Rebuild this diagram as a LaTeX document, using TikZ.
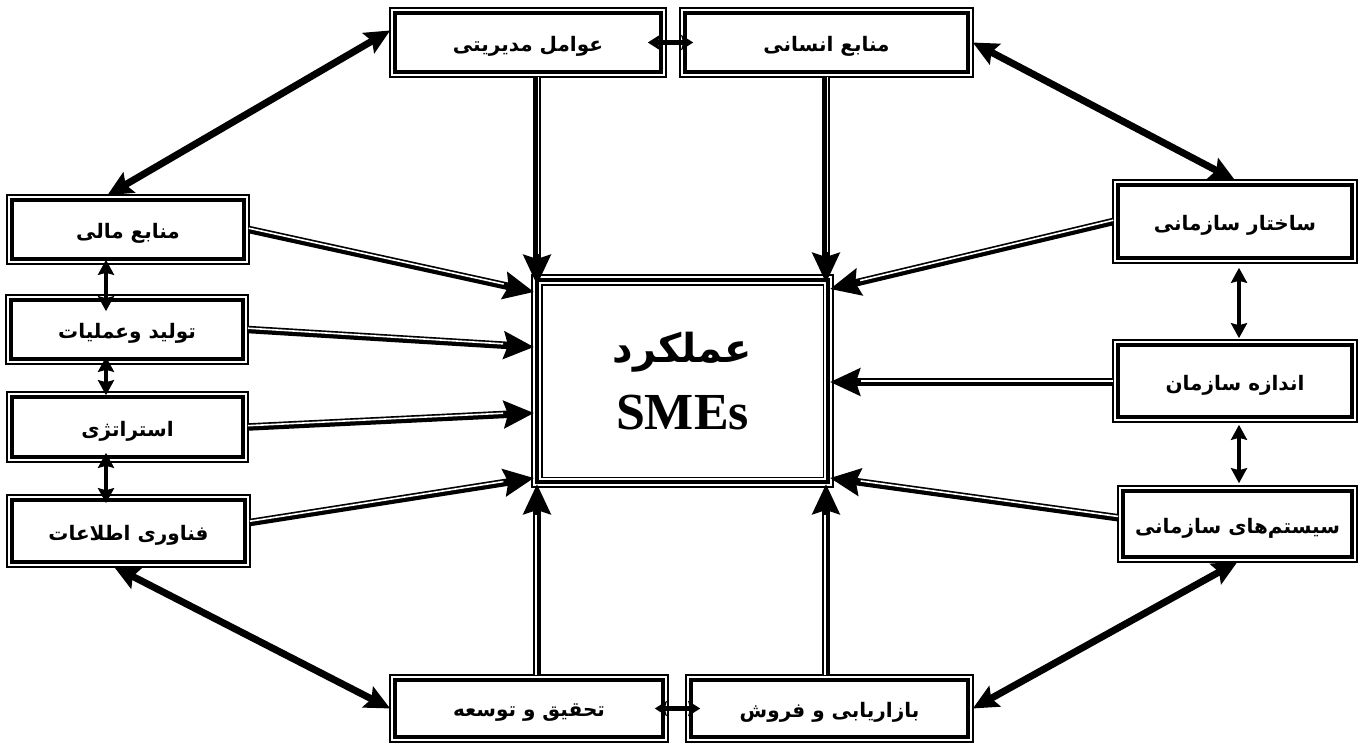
\documentclass[tikz,border=0pt]{standalone}
\usepackage{fontspec}
\setmainfont{Liberation Serif}
\newfontfamily\fa[Script=Arabic]{DejaVu Sans}
\TeXXeTstate=1
\usetikzlibrary{arrows.meta,calc}
\newcommand\lab[1]{\raisebox{-4pt}[\height][\depth]{\fa\bfseries\fontsize{20}{23}\selectfont\beginR #1\endR}}
\newcommand\dbl[3][yshift=1.3pt]{\draw[dblk] #2 -- #3; \draw[dblw, transform canvas={#1}] #2 -- #3;}
\begin{document}
\begin{tikzpicture}[x=1pt,y=-1pt,
  box/.style={draw, line width=3.2pt, outer sep=4.8pt, inner sep=0pt, align=center},
  frame/.style={line width=1.6pt},
  dblk/.style={line width=7.5pt, -{Stealth[length=30pt,width=27pt,inset=4pt]}},
  dblw/.style={white, line width=1.6pt, shorten >=31pt},
  bigbi/.style={line width=7pt, {Stealth[length=25pt,width=23pt,inset=4pt]}-{Stealth[length=25pt,width=23pt,inset=4pt]}},
  smallbi/.style={line width=4.5pt, {Stealth[length=15pt,width=16pt,inset=2pt]}-{Stealth[length=15pt,width=16pt,inset=2pt]}},
  tinybi/.style={line width=4.5pt, {Stealth[length=12pt,width=15pt,inset=2pt]}-{Stealth[length=12pt,width=15pt,inset=2pt]}}]
\useasboundingbox (0,0) rectangle (1364,744);
% boxes
\node[box, minimum width=266, minimum height=59] (mod) at (528,42.5) {\lab{عوامل مدیریتی}};
\node[box, minimum width=283, minimum height=59] (ens) at (826.5,42.5) {\lab{منابع انسانی}};
\node[box, minimum width=234, minimum height=73] (sakh) at (1235,221.5) {\lab{ساختار سازمانی}};
\node[box, minimum width=234, minimum height=72] (andaz) at (1235,381) {\lab{اندازه سازمان}};
\node[box, minimum width=229, minimum height=66] (sys) at (1237.5,524) {\lab{سیستم^^^^200cهای سازمانی}};
\node[box, minimum width=232, minimum height=59] (mali) at (128,229.5) {\lab{منابع مالی}};
\node[box, minimum width=232, minimum height=59] (tolid) at (127,329.5) {\lab{تولید وعملیات}};
\node[box, minimum width=231, minimum height=60] (ester) at (127.5,427) {\lab{استراتژی}};
\node[box, minimum width=233, minimum height=62] (fanav) at (128.5,531) {\lab{فناوری اطلاعات}};
\node[box, minimum width=268, minimum height=57] (tahq) at (529,708.5) {\lab{تحقیق و توسعه}};
\node[box, minimum width=277, minimum height=57] (baz) at (829.5,708.5) {\lab{بازاریابی و فروش}};
\node[box, minimum width=291, minimum height=202] (c) at (682.5,381)
  {{\fa\bfseries\fontsize{40}{46}\selectfont\beginR عملکرد\endR}\\[22pt]
   {\bfseries\fontsize{52}{56}\selectfont SMEs}};
\foreach \n in {mod,ens,sakh,andaz,sys,mali,tolid,ester,fanav,tahq,baz,c}
  \draw[frame] (\n.north west) rectangle (\n.south east);
\draw[frame] ([shift={(9.5,9.5)}]c.north west) rectangle ([shift={(-9.5,-9.5)}]c.south east);
% target points on the centre box
\coordinate (cT1) at (537,285);
\coordinate (cT2) at (826,283);
\coordinate (cL1) at (534,292);
\coordinate (cL2) at (534,347);
\coordinate (cL3) at (534,413);
\coordinate (cL4) at (534,478);
\coordinate (cR1) at (830,289);
\coordinate (cR2) at (830,382);
\coordinate (cR3) at (830,478);
\coordinate (cB1) at (537,484);
\coordinate (cB2) at (826,484);
\coordinate (xl) at (106,0);
\coordinate (xr) at (1239,0);
% double connectors into the centre
\dbl[xshift=1.3pt]{(mod.south -| cT1)}{(cT1)}
\dbl[xshift=1.3pt]{(ens.south -| cT2)}{(cT2)}
\dbl{(mali.east)}{(cL1)}
\dbl{(tolid.east)}{(cL2)}
\dbl{(ester.east)}{(cL3)}
\dbl{(fanav.4)}{(cL4)}
\dbl{(sakh.west)}{(cR1)}
\dbl{(andaz.west |- cR2)}{(cR2)}
\dbl{(sys.177)}{(cR3)}
\dbl[xshift=-1.3pt]{(tahq.north -| cB1)}{(cB1)}
\dbl[xshift=-1.3pt]{(baz.north -| cB2)}{(cB2)}
% bidirectional links
\draw[bigbi] (mali.121) -- (mod.175);
\draw[bigbi] (ens.east) -- (sakh.north);
\draw[bigbi] (fanav.248) -- (tahq.west);
\draw[bigbi] (baz.east) -- (sys.south);
\draw[smallbi] ($(mali.south -| xl)+(0,-4)$) -- ($(tolid.north -| xl)+(0,16)$);
\draw[smallbi] ($(tolid.south -| xl)+(0,-7)$) -- ($(ester.north -| xl)+(0,3)$);
\draw[smallbi] ($(ester.south -| xl)+(0,-9)$) -- ($(fanav.north -| xl)+(0,8)$);
\draw[smallbi] ($(sakh.south -| xr)+(0,5)$) -- ($(andaz.north -| xr)+(0,-2)$);
\draw[smallbi] ($(andaz.south -| xr)+(0,3)$) -- ($(sys.north -| xr)+(0,-3)$);
\draw[tinybi] ($(mod.east)+(-18,0)$) -- ($(ens.west)+(13,0)$);
\draw[tinybi] ($(tahq.east)+(-13,0)$) -- ($(baz.west)+(14,0)$);
\end{tikzpicture}
\end{document}
